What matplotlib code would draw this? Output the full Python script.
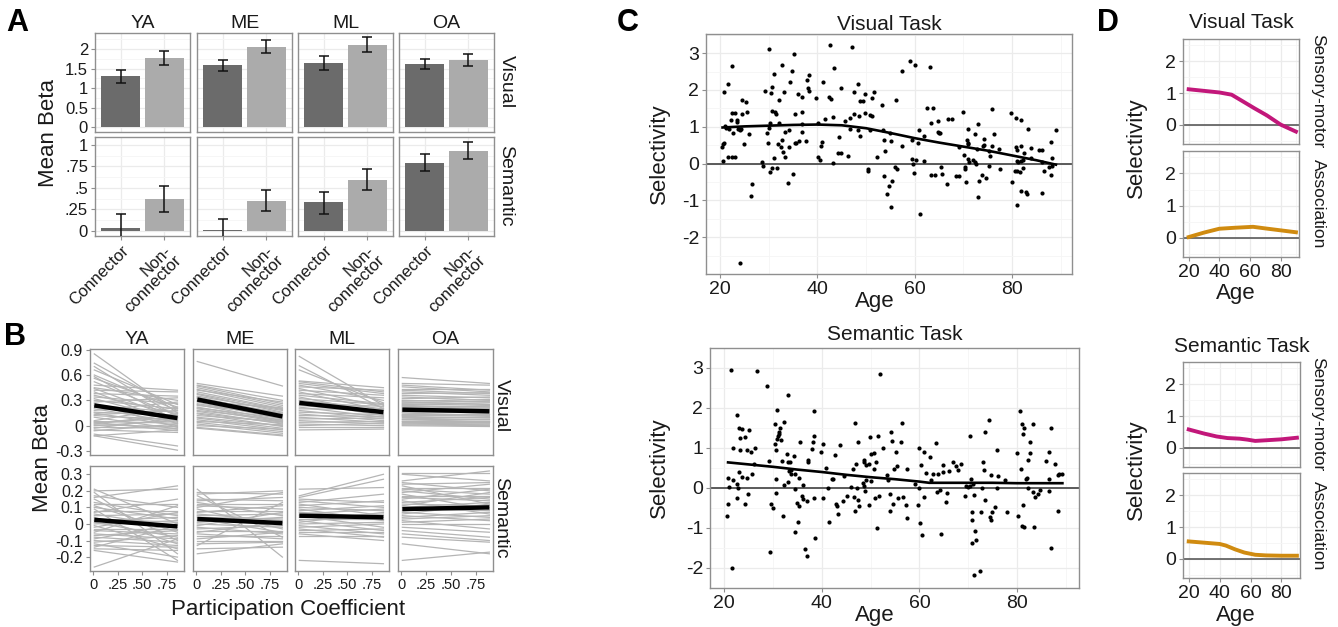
import matplotlib
matplotlib.use('Agg')
import matplotlib.pyplot as plt

plt.rcParams['font.family'] = ['Liberation Sans', 'DejaVu Sans']

# ---------------- data ----------------
groups = ['YA', 'ME', 'ML', 'OA']
bar_labels = ['Connector', 'Non-\nconnector']

# panel A: mean beta with error bars
vis_conn_mean = [1.30, 1.58, 1.64, 1.62]
vis_conn_lo = [1.14, 1.44, 1.47, 1.49]
vis_conn_hi = [1.47, 1.73, 1.81, 1.75]
vis_non_mean = [1.77, 2.06, 2.10, 1.72]
vis_non_lo = [1.59, 1.90, 1.92, 1.57]
vis_non_hi = [1.96, 2.24, 2.30, 1.87]
sem_conn_mean = [0.03, 0.01, 0.33, 0.79]
sem_conn_lo = [-0.13, -0.12, 0.20, 0.70]
sem_conn_hi = [0.19, 0.14, 0.45, 0.89]
sem_non_mean = [0.37, 0.35, 0.59, 0.93]
sem_non_lo = [0.22, 0.23, 0.47, 0.84]
sem_non_hi = [0.52, 0.47, 0.72, 1.03]

# panel B: subject lines, beta at low / high participation coefficient
pc_start = 0.01
pc_end = [0.86, 0.88, 0.87, 0.89]

vis_ya_start = [0.85, 0.74, 0.70, 0.66, 0.60, 0.58, 0.56, 0.52, 0.48, 0.45, 0.44, 0.42, 0.40, 0.38, 0.36,
                0.34, 0.32, 0.30, 0.28, 0.26, 0.24, 0.22, 0.20, 0.18, 0.16, 0.15, 0.13, 0.12, 0.10, 0.06,
                0.05, 0.04, 0.03, 0.02, 0.01, 0.00, -0.02, -0.03, -0.05, -0.06, -0.10, -0.12, -0.12]
vis_ya_end = [0.15, 0.20, 0.10, 0.25, 0.18, 0.05, 0.22, 0.12, 0.42, 0.30, 0.08, 0.40, 0.02, 0.35, 0.14,
              0.26, 0.06, 0.20, 0.33, -0.02, 0.16, 0.10, 0.04, 0.28, 0.12, 0.00, 0.18, 0.07, -0.04, 0.22,
              0.03, -0.06, 0.10, 0.14, -0.01, 0.06, -0.03, 0.09, -0.08, 0.02, -0.24, -0.29, -0.05]
vis_me_start = [0.76, 0.50, 0.48, 0.47, 0.45, 0.43, 0.42, 0.40, 0.38, 0.37, 0.35, 0.34, 0.33, 0.32, 0.30,
                0.29, 0.28, 0.26, 0.25, 0.24, 0.22, 0.21, 0.20, 0.18, 0.17, 0.15, 0.14, 0.12, 0.10, 0.09,
                0.07, 0.05, 0.04, 0.02, 0.00, -0.02, -0.03]
vis_me_end = [0.47, 0.35, 0.30, 0.26, 0.24, 0.22, 0.28, 0.20, 0.19, 0.16, 0.18, 0.12, 0.14, 0.15, 0.10,
              0.21, 0.08, 0.11, 0.06, 0.13, 0.05, 0.09, 0.04, 0.07, 0.02, 0.03, -0.01, 0.05, 0.00, -0.03,
              -0.05, 0.01, -0.07, -0.09, -0.04, -0.11, -0.12]
vis_ml_start = [0.82, 0.71, 0.66, 0.53, 0.52, 0.50, 0.48, 0.46, 0.44, 0.42, 0.40, 0.38, 0.36, 0.34, 0.32,
                0.30, 0.28, 0.26, 0.24, 0.22, 0.20, 0.18, 0.16, 0.14, 0.12, 0.10, 0.08, 0.06, 0.04, 0.02,
                0.00, -0.02, -0.05]
vis_ml_end = [0.24, 0.20, 0.27, 0.45, 0.40, 0.38, 0.30, 0.42, 0.22, 0.36, 0.18, 0.33, 0.26, 0.14, 0.25,
              0.20, 0.12, 0.23, 0.16, 0.10, 0.19, 0.08, 0.13, 0.06, 0.11, 0.04, 0.09, 0.02, 0.05, 0.00,
              0.03, -0.02, -0.04]
vis_oa_start = [0.57, 0.50, 0.48, 0.46, 0.44, 0.42, 0.40, 0.38, 0.36, 0.34, 0.32, 0.30, 0.29, 0.28, 0.27,
                0.26, 0.25, 0.24, 0.23, 0.22, 0.21, 0.20, 0.19, 0.18, 0.17, 0.16, 0.15, 0.14, 0.13, 0.12,
                0.11, 0.10, 0.09, 0.08, 0.07, 0.06, 0.05, 0.04, 0.03, 0.02, 0.01, 0.00]
vis_oa_end = [0.50, 0.48, 0.42, 0.40, 0.44, 0.38, 0.36, 0.39, 0.33, 0.30, 0.34, 0.28, 0.31, 0.25, 0.29,
              0.24, 0.27, 0.22, 0.20, 0.23, 0.18, 0.21, 0.16, 0.19, 0.15, 0.17, 0.12, 0.14, 0.11, 0.13,
              0.09, 0.10, 0.07, 0.08, 0.05, 0.06, 0.03, 0.04, 0.02, 0.01, 0.00, -0.01]

sem_ya_start = [0.21, 0.20, 0.19, 0.17, 0.16, 0.15, 0.13, 0.12, 0.11, 0.10, 0.09, 0.08, 0.07, 0.06, 0.05,
                0.04, 0.03, 0.02, 0.01, 0.00, -0.01, -0.02, -0.03, -0.04, -0.05, -0.06, -0.07, -0.08, -0.09,
                -0.10, -0.11, -0.12, -0.13, -0.14, -0.15, -0.16, -0.26]
sem_ya_end = [0.00, 0.21, -0.18, 0.10, 0.23, -0.10, 0.05, 0.12, -0.05, 0.03, -0.22, 0.08, 0.15, -0.02, 0.06,
              -0.12, 0.01, 0.04, -0.08, 0.02, -0.15, 0.07, -0.03, -0.06, 0.11, -0.09, -0.04, -0.11, 0.00,
              -0.13, -0.07, -0.20, -0.14, -0.01, -0.16, -0.23, -0.09]
sem_me_start = [0.21, 0.19, 0.18, 0.17, 0.15, 0.14, 0.13, 0.12, 0.11, 0.10, 0.09, 0.08, 0.07, 0.06, 0.05,
                0.04, 0.03, 0.02, 0.01, 0.00, -0.01, -0.02, -0.03, -0.04, -0.05, -0.06, -0.07, -0.09, -0.10,
                -0.12, -0.13, -0.15, -0.18]
sem_me_end = [-0.20, 0.18, 0.20, -0.08, 0.14, 0.16, 0.05, 0.12, 0.09, 0.19, -0.03, 0.08, 0.11, 0.02, 0.06,
              0.03, -0.05, 0.00, 0.04, -0.02, 0.07, -0.06, -0.01, -0.04, 0.01, -0.09, -0.07, -0.05, -0.10,
              -0.11, 0.13, -0.14, -0.12]
sem_ml_start = [0.21, 0.17, 0.16, 0.15, 0.14, 0.13, 0.12, 0.11, 0.10, 0.09, 0.08, 0.07, 0.06, 0.05, 0.04,
                0.03, 0.02, 0.01, 0.00, -0.01, -0.02, -0.03, -0.04, -0.05, -0.06, -0.07, -0.22]
sem_ml_end = [0.22, 0.30, 0.27, 0.13, 0.10, 0.18, 0.05, 0.14, 0.08, 0.02, 0.11, 0.04, 0.09, -0.02, 0.06,
              0.03, -0.04, 0.07, 0.01, -0.06, 0.00, -0.08, -0.03, -0.05, -0.10, -0.07, -0.24]
sem_oa_start = [0.31, 0.30, 0.26, 0.25, 0.24, 0.23, 0.22, 0.21, 0.20, 0.19, 0.18, 0.17, 0.16, 0.15, 0.14,
                0.13, 0.12, 0.11, 0.10, 0.09, 0.08, 0.07, 0.06, 0.05, 0.04, 0.03, 0.02, 0.01, 0.00, -0.02,
                -0.04, -0.06, -0.08, -0.12, -0.22]
sem_oa_end = [0.31, 0.26, 0.32, 0.20, 0.25, 0.12, 0.22, 0.18, 0.15, 0.24, 0.09, 0.17, 0.14, 0.21, 0.06,
              0.16, 0.11, 0.19, 0.13, 0.08, 0.10, 0.04, 0.12, 0.02, 0.07, 0.05, -0.03, 0.03, 0.00, -0.05,
              -0.08, -0.10, -0.11, -0.18, -0.17]

# group-level fitted lines (start, end)
vis_fit_start = [0.24, 0.31, 0.27, 0.19]
vis_fit_end = [0.09, 0.11, 0.16, 0.17]
sem_fit_start = [0.025, 0.03, 0.05, 0.09]
sem_fit_end = [-0.015, 0.005, 0.04, 0.10]

# panel C: selectivity by age
vis_age = [30.1, 42.5, 47.1, 35.2, 22.4, 32.8, 43.5, 31.0, 21.6, 34.7, 38.2, 37.9, 34.3, 41.2, 48.3,
           30.6, 44.8, 20.8, 29.2, 30.5, 38.0, 38.2, 47.5, 51.6, 33.1, 35.9, 36.9, 39.6, 42.3, 42.7,
           49.7, 48.8, 49.3, 51.2, 24.5, 25.3, 32.0, 53.2, 22.5, 23.0, 22.3, 23.5, 23.4, 24.5, 25.5,
           30.6, 31.2, 31.5, 35.3, 36.8, 43.1, 41.6, 45.7, 46.6, 47.5, 48.5, 49.7, 50.7, 51.2, 30.3,
           32.0, 36.9, 40.1, 21.0, 21.2, 21.9, 23.6, 24.2, 24.0, 30.1, 29.6, 25.9, 22.7, 33.3, 34.2,
           36.8, 46.7, 48.3, 48.7, 50.7, 53.4, 54.9, 20.5, 20.7, 20.4, 24.9, 29.8, 31.8, 32.8, 32.5,
           33.0, 33.4, 34.2, 35.3, 35.6, 36.2, 37.7, 40.8, 41.0, 44.5, 53.6, 53.9, 21.6, 22.5, 23.1,
           31.0, 40.1, 40.5, 44.3, 44.9, 46.3, 52.3, 20.5, 28.6, 28.9, 30.3, 30.6, 31.6, 43.1, 34.9,
           34.0, 50.4, 50.3, 53.6, 54.6, 54.2, 55.1, 26.6, 26.3, 24.1,
           59.0, 60.1, 57.3, 63.2, 56.2, 62.5, 63.8, 63.3, 64.7, 64.7, 64.9, 65.2, 66.8, 67.6, 70.0,
           70.9, 73.0, 75.8, 76.2, 79.7, 80.7, 81.8, 83.2, 72.4, 74.3, 70.8, 70.9, 71.0, 74.1, 74.3,
           75.8, 77.3, 55.1, 57.3, 59.5, 60.8, 60.6, 61.9, 70.2, 70.9, 71.2, 72.0, 72.3, 72.5, 69.0,
           72.8, 75.2, 75.5, 80.8, 81.9, 80.9, 82.5, 83.8, 85.6, 86.2, 88.0, 89.0, 83.8, 81.0, 81.2,
           81.9, 82.3, 86.1, 88.2, 59.5, 60.2, 61.9, 59.7, 55.9, 56.3, 59.9, 63.4, 64.2, 65.3, 65.6,
           68.4, 69.1, 70.3, 70.6, 70.4, 66.6, 73.2, 73.9, 74.6, 75.3, 77.6, 80.5, 81.0, 81.6, 82.3,
           79.9, 86.6, 87.9, 87.5, 88.2, 55.4, 81.9, 82.8, 83.0, 86.2, 72.9, 81.1, 61.1]
vis_sel = [3.10, 3.21, 3.16, 2.99, 2.64, 2.69, 2.60, 2.44, 2.16, 2.51, 2.41, 2.26, 2.21, 2.21, 2.16,
           2.09, 2.06, 1.94, 1.98, 1.92, 2.05, 1.96, 1.94, 1.94, 1.94, 1.89, 1.80, 1.78, 1.80, 1.76,
           1.88, 1.69, 1.71, 1.78, 1.73, 1.67, 1.74, 1.60, 1.37, 1.37, 1.19, 1.19, 1.12, 1.35, 1.41,
           1.44, 1.41, 1.35, 1.35, 1.39, 1.27, 1.22, 1.17, 1.23, 1.35, 1.30, 1.38, 1.32, 1.29, 1.10,
           1.10, 1.08, 1.11, 1.01, 0.96, 0.94, 0.94, 0.94, 0.90, 0.96, 0.82, 0.81, 0.83, 0.85, 0.90,
           0.87, 0.94, 0.90, 0.76, 0.91, 0.90, 0.82, 0.53, 0.56, 0.46, 0.53, 0.55, 0.52, 0.63, 0.44,
           0.31, 0.19, 0.46, 0.55, 0.56, 0.61, 0.60, 0.47, 0.58, 0.72, 0.65, 0.33, 0.17, 0.17, 0.17,
           0.15, 0.19, 0.10, 0.28, 0.29, 0.21, 0.17, 0.06, 0.04, -0.07, -0.24, -0.12, -0.11, 0.02, -0.28,
           -0.53, -0.14, -0.21, -0.33, -0.62, -0.84, -1.17, -0.55, -0.87, -2.71,
           2.80, 2.69, 2.52, 2.63, 1.73, 1.51, 1.52, 1.10, 1.15, 0.87, 0.83, 0.83, 1.20, 1.20, 1.40,
           0.94, 1.07, 1.48, 0.79, 1.38, 1.25, 1.19, 0.93, 0.79, 0.68, 0.64, 0.57, 0.53, 0.49, 0.50,
           0.48, 0.40, 0.62, 0.49, 0.64, 0.90, 0.55, 0.76, 0.24, 0.13, 0.04, 0.10, 0.04, -0.01, 0.44,
           0.39, 0.35, 0.21, 0.46, 0.48, 0.36, 0.28, 0.42, 0.36, 0.37, 0.59, 0.92, 0.14, 0.08, 0.04,
           0.06, 0.09, 0.05, 0.16, 0.13, 0.10, 0.07, -0.01, -0.10, -0.14, -0.25, -0.30, -0.32, -0.10, -0.28,
           -0.34, -0.34, -0.14, -0.51, -0.10, -0.55, -0.46, -0.31, -0.40, -0.07, -0.15, -0.21, -0.21, -0.24, -0.13,
           -0.51, -0.19, -0.30, -0.08, -0.07, -0.47, -0.75, -0.78, -0.84, -0.80, -0.91, -1.12, -1.38]
vis_fit_age = [20.5, 25, 30, 35, 40, 45, 50, 55, 60, 65, 70, 75, 80, 85, 89]
vis_fit_sel = [0.98, 1.01, 1.03, 1.05, 1.06, 1.04, 0.96, 0.83, 0.69, 0.57, 0.46, 0.35, 0.22, 0.09, -0.03]

sem_age = [21.4, 26.8, 28.8, 33.0, 30.8, 38.4, 22.6, 30.4, 32.2, 23.0, 23.7, 25.1, 24.3, 23.2, 31.1,
           31.3, 31.2, 31.5, 30.8, 31.6, 38.5, 38.2, 35.6, 40.3, 43.7, 21.8, 26.4, 23.3, 24.6, 25.5,
           30.4, 30.7, 32.9, 34.3, 33.0, 33.4, 37.1, 37.1, 31.9, 29.1, 38.0, 39.9, 42.7, 40.8, 26.1,
           23.0, 23.6, 24.6, 25.7, 20.8, 21.8, 22.6, 21.0, 22.9, 30.6, 33.6, 33.3, 33.7, 34.5, 35.4,
           36.1, 32.2, 33.0, 42.0, 42.4, 44.6, 46.4, 47.0, 47.4, 46.8, 47.2, 48.7, 48.7, 49.0, 49.7,
           50.0, 50.6, 50.6, 51.1, 50.0, 49.0, 48.5, 48.7, 51.5, 49.9, 52.6, 54.1, 54.4, 54.7, 53.4,
           53.6, 51.9, 20.8, 22.6, 24.3, 24.8, 29.6, 30.0, 30.6, 32.1, 34.5, 34.9, 35.3, 36.2, 37.0,
           36.0, 38.4, 40.3, 41.2, 41.4, 35.2, 34.5, 38.6, 36.6, 37.0, 29.4, 21.7, 20.6, 42.9, 43.2,
           43.3, 44.4, 45.1, 45.9, 46.6, 46.9, 47.5, 47.7, 48.8, 49.6, 51.0, 51.7, 51.3, 53.9, 54.0,
           54.5,
           56.5, 56.2, 55.3, 55.5, 57.5, 59.9, 60.9, 62.2, 63.4, 60.4, 61.4, 62.3, 62.8, 63.8, 64.9,
           64.9, 66.1, 66.9, 67.4, 67.9, 68.6, 59.1, 59.9, 61.0, 63.6, 64.2, 65.7, 65.4, 69.3, 69.6,
           70.0, 70.4, 70.4, 73.4, 74.3, 75.8, 73.0, 73.2, 74.6, 70.6, 71.0, 72.8, 76.0, 76.2, 77.6,
           71.1, 73.5, 55.7, 56.7, 57.3, 57.5, 59.8, 60.1, 60.5, 64.5, 70.8, 70.7, 72.7, 74.8, 75.4,
           74.4, 74.6, 78.0, 71.3, 71.5, 70.8, 71.2, 72.4, 80.6, 81.0, 81.4, 81.2, 83.3, 82.6, 80.0,
           82.7, 82.3, 80.8, 81.9, 82.1, 86.6, 87.0, 86.5, 85.9, 87.8, 88.3, 88.5, 89.3, 82.2, 83.2,
           83.6, 84.4, 84.7, 86.5, 81.2, 80.3, 81.0, 81.4, 83.5, 88.3, 86.9]
sem_sel = [2.94, 2.92, 2.55, 2.32, 1.94, 1.92, 1.83, 1.61, 1.65, 1.51, 1.48, 1.45, 1.27, 1.24, 1.31,
           1.40, 1.35, 1.51, 1.22, 1.21, 1.30, 1.14, 1.15, 1.09, 1.07, 1.00, 1.01, 0.95, 0.96, 0.89,
           1.09, 0.95, 0.85, 0.79, 0.64, 0.64, 0.69, 0.64, 0.67, 0.67, 0.97, 0.89, 0.83, 0.50, 0.60,
           0.40, 0.27, 0.26, 0.34, 0.26, 0.21, 0.11, 0.03, 0.01, 0.22, 0.45, 0.43, 0.36, 0.36, 0.24,
           0.07, 0.07, 0.15, 0.22, 0.22, 0.29, 0.47, 0.59, 1.14, 1.63, 0.00, 0.64, 0.70, 0.57, 0.60,
           0.85, 0.87, 0.47, 0.65, 0.17, 0.19, 0.13, 0.05, 1.31, 1.27, 1.01, 1.41, 1.18, 0.47, 0.32,
           0.21, 2.86, -0.39, -0.25, -0.41, -0.14, -0.40, -0.51, -0.13, -0.69, -0.03, -0.38, -0.44, -0.28, -0.33,
           -0.21, -0.26, -0.26, -0.01, -0.86, -0.84, -1.11, -1.24, -1.52, -1.71, -1.59, -1.99, -0.71, -0.39, -0.44,
           -0.64, -0.33, -0.19, 0.03, -0.22, -0.57, -0.31, -0.44, -0.08, -0.42, -0.26, -0.19, -1.00, -0.16, -0.58,
           -0.39,
           1.63, 1.16, 0.91, 0.54, 0.48, 1.00, 0.89, 0.78, 1.13, 0.57, 0.38, 0.21, 0.34, 0.36, 0.57,
           0.40, 0.42, 0.64, 0.54, 0.45, 0.61, 0.11, 0.01, -0.22, -0.09, -0.05, -0.12, -0.35, -0.20, 0.05,
           0.02, 0.06, 1.30, 1.41, 1.70, 0.96, 0.64, 0.46, 0.33, 0.22, 0.09, 0.01, -0.01, 0.30, 0.19,
           -0.18, -0.30, -0.24, -0.23, -0.42, -0.75, -0.43, -0.88, -1.18, -1.14, -0.61, -0.79, -0.61, -0.61, -0.47,
           -0.72, -0.80, -0.61, -1.07, -1.29, -1.38, -2.17, -2.08, 1.93, 1.59, 1.50, 1.34, 1.60, 1.16, 0.87,
           0.87, 0.69, 0.48, 0.22, 0.26, 0.22, 1.50, 0.89, 0.68, 0.61, 0.32, 0.36, 0.36, 0.01, -0.10,
           -0.23, -0.16, -0.05, -0.08, -0.43, -0.69, -0.94, -0.98, -0.97, -0.58, -1.49]
sem_fit_age = [20.8, 25, 30, 35, 40, 45, 50, 55, 60, 62, 65, 70, 75, 80, 85, 89.3]
sem_fit_sel = [0.64, 0.59, 0.53, 0.46, 0.40, 0.33, 0.27, 0.22, 0.16, 0.13, 0.13, 0.13, 0.13, 0.12, 0.12, 0.12]

# panel D: smoothed selectivity by network type
vis_sm_age = [20, 30, 40, 48, 55, 63, 71, 80, 90]
vis_sm_sel = [1.12, 1.07, 1.02, 0.95, 0.75, 0.52, 0.30, 0.01, -0.21]
vis_as_age = [20, 30, 40, 50, 62, 70, 80, 90]
vis_as_sel = [0.02, 0.16, 0.28, 0.31, 0.34, 0.29, 0.23, 0.17]
sem_sm_age = [20, 30, 38, 45, 53, 58, 63, 70, 80, 90]
sem_sm_sel = [0.58, 0.45, 0.36, 0.31, 0.29, 0.26, 0.22, 0.24, 0.27, 0.32]
sem_as_age = [20, 30, 40, 44, 50, 56, 63, 70, 80, 90]
sem_as_sel = [0.55, 0.51, 0.47, 0.42, 0.30, 0.20, 0.13, 0.11, 0.10, 0.10]

# ---------------- layout helpers ----------------
W, H = 1338, 627
fig = plt.figure(figsize=(W / 100, H / 100), dpi=100)

GRID = '#ebebeb'
MINOR = '#f5f5f5'
EDGE = '#8f8f8f'
TXT = '#1a1a1a'


def box(l, t, r, b):
    return [l / W, 1 - b / H, (r - l) / W, (b - t) / H]


def ftext(x, y, s, **kw):
    fig.text(x / W, 1 - y / H, s, color=TXT, **kw)


def letter(x, y, s):
    fig.text(x / W, 1 - y / H, s, ha='center', va='center', fontsize=22, fontweight='bold', color='black')


def style(ax, grid=True, size=12):
    for sp in ax.spines.values():
        sp.set_color(EDGE)
        sp.set_linewidth(1.0)
    ax.tick_params(length=3, width=0.8, color=EDGE, labelcolor=TXT, labelsize=size, pad=2)
    ax.tick_params(which='minor', length=0)
    if grid:
        ax.grid(True, which='major', color=GRID, lw=0.9)
        ax.grid(True, which='minor', color=MINOR, lw=0.6)
    ax.set_axisbelow(True)


# ---------------- panel A ----------------
A_cols = [(95, 190), (197, 292), (298, 393), (399, 494)]
A_rows = [(33, 132), (137, 236)]
a_rows = [
    (vis_conn_mean, vis_conn_lo, vis_conn_hi, vis_non_mean, vis_non_lo, vis_non_hi,
     (-0.12, 2.41), [0, 0.5, 1, 1.5, 2], ['0', '0.5', '1', '1.5', '2'], [0.25, 0.75, 1.25, 1.75, 2.25]),
    (sem_conn_mean, sem_conn_lo, sem_conn_hi, sem_non_mean, sem_non_lo, sem_non_hi,
     (-0.06, 1.09), [0, 0.25, 0.5, 0.75, 1], ['0', '.25', '.5', '.75', '1'], [0.125, 0.375, 0.625, 0.875]),
]
for i, (cm, clo, chi, nm, nlo, nhi, ylim, yt, ytl, ymin) in enumerate(a_rows):
    for j, g in enumerate(groups):
        ax = fig.add_axes(box(A_cols[j][0], A_rows[i][0], A_cols[j][1], A_rows[i][1]))
        style(ax)
        means = [cm[j], nm[j]]
        ax.bar([1, 2], means, width=0.9, color=['#6b6b6b', '#ababab'], zorder=2)
        ax.errorbar([1, 2], means, yerr=[[cm[j] - clo[j], nm[j] - nlo[j]], [chi[j] - cm[j], nhi[j] - nm[j]]],
                    fmt='none', ecolor='#111111', elinewidth=1.1, capsize=3.5, capthick=1.1, zorder=3)
        ax.set_xlim(0.4, 2.6)
        ax.set_ylim(*ylim)
        ax.set_xticks([1, 2])
        ax.set_yticks(yt)
        ax.set_yticks(ymin, minor=True)
        if j == 0:
            ax.set_yticklabels(ytl)
        else:
            ax.tick_params(axis='y', length=0, labelleft=False)
        if i == 1:
            ax.set_xticklabels(bar_labels, rotation=45, ha='right', va='top', rotation_mode='anchor',
                               fontsize=12, linespacing=0.9)
        else:
            ax.tick_params(axis='x', length=0, labelbottom=False)
        if i == 0:
            ftext(sum(A_cols[j]) / 2, 24, g, ha='center', va='center', fontsize=14)
ftext(506, 82, 'Visual', rotation=270, ha='center', va='center', fontsize=14)
ftext(506, 186, 'Semantic', rotation=270, ha='center', va='center', fontsize=14)
ftext(48, 133, 'Mean Beta', rotation=90, ha='center', va='center', fontsize=16)
letter(17, 23, 'A')

# ---------------- panel B ----------------
B_cols = [(90, 184), (193, 287), (295, 389), (398, 493)]
B_rows = [(349, 455), (466, 571)]
vis_starts = [vis_ya_start, vis_me_start, vis_ml_start, vis_oa_start]
vis_ends = [vis_ya_end, vis_me_end, vis_ml_end, vis_oa_end]
sem_starts = [sem_ya_start, sem_me_start, sem_ml_start, sem_oa_start]
sem_ends = [sem_ya_end, sem_me_end, sem_ml_end, sem_oa_end]
b_rows = [
    (vis_starts, vis_ends, vis_fit_start, vis_fit_end, (-0.347, 0.908),
     [-0.3, 0, 0.3, 0.6, 0.9], ['-0.3', '0', '0.3', '0.6', '0.9']),
    (sem_starts, sem_ends, sem_fit_start, sem_fit_end, (-0.284, 0.35),
     [-0.2, -0.1, 0, 0.1, 0.2, 0.3], ['-0.2', '-0.1', '0', '0.1', '0.2', '0.3']),
]
for i, (starts, ends, fs, fe, ylim, yt, ytl) in enumerate(b_rows):
    for j, g in enumerate(groups):
        ax = fig.add_axes(box(B_cols[j][0], B_rows[i][0], B_cols[j][1], B_rows[i][1]))
        style(ax, grid=False, size=11.5)
        for s, e in zip(starts[j], ends[j]):
            ax.plot([pc_start, pc_end[j]], [s, e], color='#b5b5b5', lw=0.9, zorder=1)
        ax.plot([pc_start, pc_end[j]], [fs[j], fe[j]], color='black', lw=3.2, solid_capstyle='butt', zorder=3)
        ax.set_xlim(-0.034, 0.927)
        ax.set_ylim(*ylim)
        ax.set_xticks([0, 0.25, 0.5, 0.75])
        ax.set_yticks(yt)
        if j == 0:
            ax.set_yticklabels(ytl)
        else:
            ax.tick_params(axis='y', length=0, labelleft=False)
        if i == 1:
            ax.set_xticklabels(['0', '.25', '.50', '.75'], fontsize=10.5)
        else:
            ax.tick_params(axis='x', length=0, labelbottom=False)
        if i == 0:
            ftext(sum(B_cols[j]) / 2, 340, g, ha='center', va='center', fontsize=14)
ftext(501, 406, 'Visual', rotation=270, ha='center', va='center', fontsize=14)
ftext(501, 518, 'Semantic', rotation=270, ha='center', va='center', fontsize=14)
ftext(42, 458, 'Mean Beta', rotation=90, ha='center', va='center', fontsize=16)
ftext(288, 610, 'Participation Coefficient', ha='center', va='center', fontsize=16)
letter(15, 337, 'B')

# ---------------- panel C ----------------
C_boxes = [(706, 34, 1072, 274), (710, 348, 1079, 588)]
c_panels = [
    (vis_age, vis_sel, vis_fit_age, vis_fit_sel, (17.1, 92.3), (-3.0, 3.52), 'Visual Task', 25, 302),
    (sem_age, sem_sel, sem_fit_age, sem_fit_sel, (17.1, 92.7), (-2.38, 3.2), 'Semantic Task', 335, 616),
]
for (ages, sel, fa, fsel, xlim, ylim, title, ty, agey), bx in zip(c_panels, C_boxes):
    ax = fig.add_axes(box(*bx))
    style(ax, size=14)
    ax.axhline(0, color='#5a5a5a', lw=1.4, zorder=1)
    ax.scatter(ages, sel, s=9, color='black', linewidths=0, zorder=2)
    ax.plot(fa, fsel, color='black', lw=1.9, zorder=3)
    ax.set_xlim(*xlim)
    ax.set_ylim(*ylim)
    ax.set_xticks([20, 40, 60, 80])
    ax.set_xticks([30, 50, 70, 90], minor=True)
    ax.set_yticks([-2, -1, 0, 1, 2, 3])
    ax.set_yticks([-2.5, -1.5, -0.5, 0.5, 1.5, 2.5, 3.5], minor=True)
    ax.set_yticklabels(['-2', '-1', '0', '1', '2', '3'])
    cx = (bx[0] + bx[2]) / 2
    ftext(cx, ty, title, ha='center', va='center', fontsize=15)
    ftext(659, (bx[1] + bx[3]) / 2, 'Selectivity', rotation=90, ha='center', va='center', fontsize=16)
    ftext(875, agey, 'Age', ha='center', va='center', fontsize=16)
letter(628, 23, 'C')

# ---------------- panel D ----------------
D_sets = [
    ((1183, 1299), [(39, 144), (151, 257)], [(vis_sm_age, vis_sm_sel), (vis_as_age, vis_as_sel)],
     'Visual Task', 23, 294),
    ((1183, 1300), [(362, 467), (473, 578)], [(sem_sm_age, sem_sm_sel), (sem_as_age, sem_as_sel)],
     'Semantic Task', 347, 616),
]
net_names = ['Sensory-motor', 'Association']
net_colors = ['#c2177a', '#d08b10']
for (xs, rows, curves, title, ty, agey) in D_sets:
    for k, ((t, b), (ag, sv)) in enumerate(zip(rows, curves)):
        ax = fig.add_axes(box(xs[0], t, xs[1], b))
        style(ax, size=14)
        ax.axhline(0, color='#5a5a5a', lw=1.2, zorder=1)
        ax.plot(ag, sv, color=net_colors[k], lw=2.8, zorder=2)
        ax.set_xlim(16.3, 92)
        ax.set_ylim(-0.6, 2.7)
        ax.set_xticks([20, 40, 60, 80])
        ax.set_xticks([30, 50, 70, 90], minor=True)
        ax.set_yticks([0, 1, 2])
        ax.set_yticks([-0.5, 0.5, 1.5, 2.5], minor=True)
        if k == 0:
            ax.tick_params(axis='x', length=0, labelbottom=False)
        ftext(1318, (t + b) / 2, net_names[k], rotation=270, ha='center', va='center', fontsize=12.5)
    ftext(sum(xs) / 2, ty, title, ha='center', va='center', fontsize=15)
    ftext(1136, (rows[0][0] + rows[1][1]) / 2, 'Selectivity', rotation=90, ha='center', va='center', fontsize=16)
    ftext(1236, agey, 'Age', ha='center', va='center', fontsize=16)
letter(1108, 23, 'D')

fig.savefig('out.png', dpi=100)
